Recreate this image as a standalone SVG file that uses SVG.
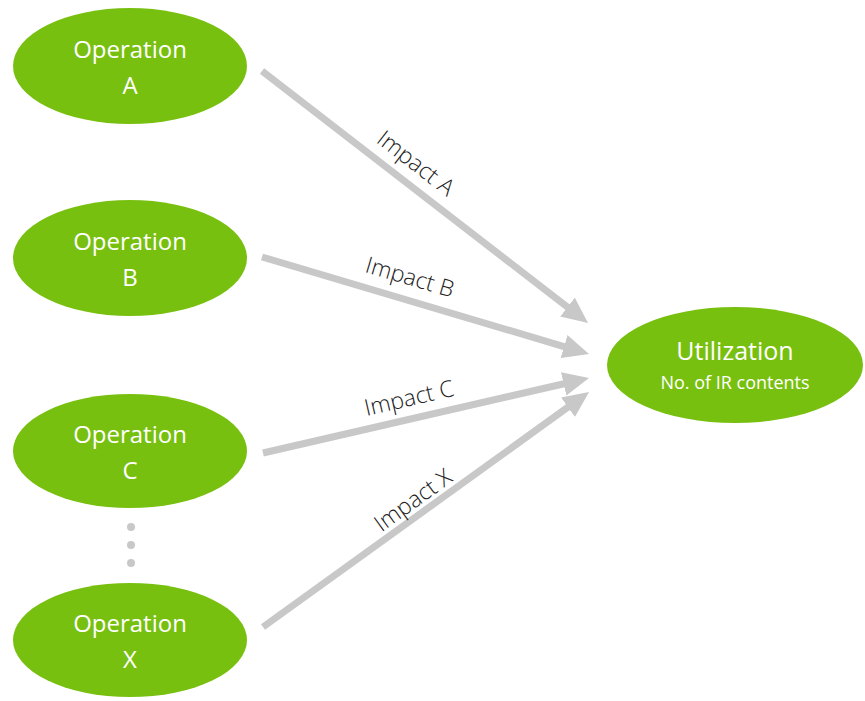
<svg xmlns="http://www.w3.org/2000/svg" width="865" height="701" viewBox="0 0 865 701">
<style>
.node ellipse{fill:#78C00F}
.lbl{font-family:"Open Sans","Liberation Sans",sans-serif;fill:#fff;text-anchor:middle}
.op{font-size:24px}
.imp{font-family:"Open Sans","Liberation Sans",sans-serif;font-size:23px;font-weight:300;fill:#222;text-anchor:middle}
.conn line{stroke:#C8C8C8;stroke-width:7;fill:none;marker-end:url(#ah)}
.dot{fill:#C8C8C8}
</style>
<defs>
<marker id="ah" markerUnits="userSpaceOnUse" markerWidth="26" markerHeight="24" refX="6" refY="12" orient="auto" viewBox="0 0 26 24">
<path d="M0,0 L26,12 L0,24 z" fill="#C8C8C8"/>
</marker>
</defs>
<rect width="865" height="701" fill="#fff"/>
<g id="connectors" class="conn">
<line x1="262" y1="71" x2="572.2" y2="310.8"/>
<line x1="262" y1="257" x2="569.8" y2="348.3"/>
<line x1="263" y1="453" x2="569.5" y2="382.5"/>
<line x1="263" y1="627" x2="572.8" y2="403.7"/>
<text class="imp" transform="translate(416,163) rotate(37.7)" y="8">Impact A</text>
<text class="imp" transform="translate(410,277) rotate(16.5)" y="8">Impact B</text>
<text class="imp" transform="translate(409,398) rotate(-13)" y="8">Impact C</text>
<text class="imp" transform="translate(413,500) rotate(-35.8)" y="8">Impact X</text>
</g>
<g id="opA" class="node">
<ellipse cx="130" cy="66" rx="117" ry="58"/>
<text class="lbl op" x="130" y="58">Operation</text>
<text class="lbl op" x="130" y="94">A</text>
</g>
<g id="opB" class="node">
<ellipse cx="130" cy="258" rx="117" ry="58"/>
<text class="lbl op" x="130" y="250">Operation</text>
<text class="lbl op" x="130" y="286">B</text>
</g>
<g id="opC" class="node">
<ellipse cx="130" cy="451" rx="117" ry="57"/>
<text class="lbl op" x="130" y="443">Operation</text>
<text class="lbl op" x="130" y="479">C</text>
</g>
<g id="dots">
<circle class="dot" cx="131" cy="527" r="4"/>
<circle class="dot" cx="131" cy="545" r="4"/>
<circle class="dot" cx="131" cy="563" r="4"/>
</g>
<g id="opX" class="node">
<ellipse cx="130" cy="640" rx="117" ry="57"/>
<text class="lbl op" x="130" y="632">Operation</text>
<text class="lbl op" x="130" y="668">X</text>
</g>
<g id="util" class="node">
<ellipse cx="735" cy="365" rx="128" ry="58"/>
<text class="lbl" x="735" y="360" font-size="25">Utilization</text>
<text class="lbl" x="735" y="389" font-size="18">No. of IR contents</text>
</g>
</svg>
